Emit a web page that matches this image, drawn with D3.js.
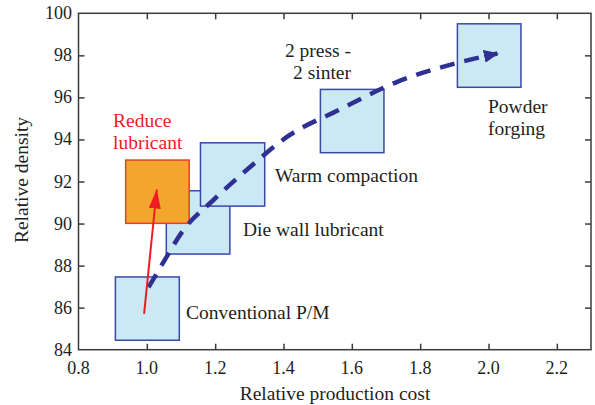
<!DOCTYPE html>
<html><head><meta charset="utf-8">
<script src="https://cdn.jsdelivr.net/npm/d3@7"></script>
<style>
html,body{margin:0;padding:0;background:#fff;}
svg{display:block;}
</style></head>
<body><svg id="c" width="595" height="405"></svg>
<script>
// ---- data ----
const xTicks = [1.0, 1.2, 1.4, 1.6, 1.8, 2.0, 2.2];
const xTickLabels = ["0.8","1.0","1.2","1.4","1.6","1.8","2.0","2.2"];
const xLabelValues = [0.8, 1.0, 1.2, 1.4, 1.6, 1.8, 2.0, 2.2];
const yTicks = [86, 88, 90, 92, 94, 96, 98];
const yTickLabels = ["84","86","88","90","92","94","96","98","100"];
const yLabelValues = [84, 86, 88, 90, 92, 94, 96, 98, 100];
// process boxes: name, x0, x1, y0, y1
const processNames = ["Conventional P/M", "Die wall lubricant", "Warm compaction", "2 press - 2 sinter", "Powder forging"];
const processX0 = [0.908, 1.057, 1.157, 1.508, 1.909];
const processX1 = [1.095, 1.243, 1.345, 1.694, 2.095];
const processY0 = [84.45, 88.55, 90.83, 93.37, 96.48];
const processY1 = [87.46, 91.56, 93.84, 96.38, 99.50];
// reduce lubricant box
const reduceX = [0.938, 1.124];
const reduceY = [90.01, 93.02];
// dashed trend curve
const trendX = [1.005, 1.05, 1.107, 1.195, 1.303, 1.411, 1.562, 1.733, 1.904, 2.026];
const trendY = [86.97, 88.2, 89.69, 91.12, 92.70, 94.13, 95.40, 96.74, 97.62, 98.09];
// red arrow
const redArrowX = [0.992, 1.029];
const redArrowY = [85.70, 91.62];

const FONT = "Tinos, 'Liberation Serif', 'DejaVu Serif', 'Noto Serif', 'Times New Roman', Times, FreeSerif, serif";
const TXT = "#231f20";

const svg = d3.select("#c");
const x = d3.scaleLinear().domain([0.8, 2.3]).range([78.5, 591]);
const y = d3.scaleLinear().domain([84, 100]).range([349.7, 13.3]);

const axisColor = "#3b3b3b";
const defs = svg.append("defs");
defs.append("marker").attr("id","blueHead").attr("viewBox","0 0 10 10")
  .attr("refX",9).attr("refY",5).attr("markerUnits","userSpaceOnUse")
  .attr("markerWidth",15).attr("markerHeight",13).attr("orient","auto")
  .attr("preserveAspectRatio","none")
  .append("path").attr("d","M0,0 L10,5 L0,10 Z").attr("fill","#2e3192");
defs.append("marker").attr("id","redHead").attr("viewBox","0 0 10 10")
  .attr("refX",10).attr("refY",5).attr("markerUnits","userSpaceOnUse")
  .attr("markerWidth",19).attr("markerHeight",12).attr("orient","auto")
  .attr("preserveAspectRatio","none")
  .append("path").attr("d","M0,0 L10,5 L0,10 Z").attr("fill","#ed1c24");

// boxes
svg.append("g").selectAll("rect").data(processNames).join("rect")
  .attr("x",(d,i)=>x(processX0[i]))
  .attr("y",(d,i)=>y(processY1[i]))
  .attr("width",(d,i)=>x(processX1[i])-x(processX0[i]))
  .attr("height",(d,i)=>y(processY0[i])-y(processY1[i]))
  .attr("fill","#cbe9f5").attr("stroke","#3a48a6").attr("stroke-width",1.5);

svg.append("rect")
  .attr("x",x(reduceX[0])).attr("y",y(reduceY[1]))
  .attr("width",x(reduceX[1])-x(reduceX[0])).attr("height",y(reduceY[0])-y(reduceY[1]))
  .attr("fill","#f4a52e").attr("stroke","#ee3a2c").attr("stroke-width",1.5);

// trend dashed curve
const line = d3.line().x(d=>x(d[0])).y(d=>y(d[1])).curve(d3.curveMonotoneX);
svg.append("path").datum(trendX.map((v,i)=>[v,trendY[i]]))
  .attr("d",line).attr("fill","none").attr("stroke","#2e3192")
  .attr("stroke-width",4.5).attr("stroke-dasharray","15,10")
  .attr("marker-end","url(#blueHead)");

// red arrow
svg.append("line")
  .attr("x1",x(redArrowX[0])).attr("y1",y(redArrowY[0]))
  .attr("x2",x(redArrowX[1])).attr("y2",y(redArrowY[1]))
  .attr("stroke","#ed1c24").attr("stroke-width",2)
  .attr("marker-end","url(#redHead)");

// frame
svg.append("rect").attr("x",78.5).attr("y",13.3).attr("width",591-78.5).attr("height",349.7-13.3)
  .attr("fill","none").attr("stroke",axisColor).attr("stroke-width",1.5);

// axes with inward ticks
const tl = 6;
const tickStyle = g=>{g.select(".domain").remove(); g.selectAll("line").attr("stroke",axisColor).attr("stroke-width",1.5);};
svg.append("g").attr("transform",`translate(0,${349.7})`)
  .call(d3.axisBottom(x).tickValues(xTicks).tickSize(-tl).tickFormat("")).call(tickStyle);
svg.append("g").attr("transform",`translate(0,${13.3})`)
  .call(d3.axisTop(x).tickValues(xTicks).tickSize(-tl).tickFormat("")).call(tickStyle);
svg.append("g").attr("transform",`translate(${78.5},0)`)
  .call(d3.axisLeft(y).tickValues(yTicks).tickSize(-tl).tickFormat("")).call(tickStyle);
svg.append("g").attr("transform",`translate(${591},0)`)
  .call(d3.axisRight(y).tickValues(yTicks).tickSize(-tl).tickFormat("")).call(tickStyle);

// tick labels
svg.append("g").selectAll("text").data(xLabelValues).join("text")
  .attr("x",d=>x(d)).attr("y",374).attr("text-anchor","middle")
  .style("font-family",FONT).attr("fill",TXT)
  .attr("font-size",18).text((d,i)=>xTickLabels[i]);
svg.append("g").selectAll("text").data(yLabelValues).join("text")
  .attr("x",72).attr("y",d=>y(d)+6).attr("text-anchor","end")
  .style("font-family",FONT).attr("fill",TXT)
  .attr("font-size",18).text((d,i)=>yTickLabels[i]);

// axis titles
svg.append("text").attr("x",335).attr("y",400).attr("text-anchor","middle")
  .style("font-family",FONT).attr("fill",TXT)
  .attr("font-size",19.5).text("Relative production cost");
svg.append("text").attr("transform","translate(28,180) rotate(-90)")
  .style("font-family",FONT).attr("fill",TXT)
  .attr("text-anchor","middle").attr("font-size",19.5).text("Relative density");

// annotations
const ann = (lines, xx, yy, anchor, color) => {
  const t = svg.append("text").attr("font-size",19.5).attr("text-anchor",anchor)
    .style("font-family",FONT).attr("fill",color||TXT);
  lines.forEach((s,i)=>t.append("tspan").attr("x",xx).attr("y",yy+i*22).text(s));
};
ann(["Reduce","lubricant"], 113, 127, "start", "#ed1c24");
ann(["2 press -","2 sinter"], 351, 57, "end");
ann(["Powder","forging"], 488, 113, "start");
ann(["Warm compaction"], 275, 182, "start");
ann(["Die wall lubricant"], 243, 236, "start");
ann(["Conventional P/M"], 186, 319, "start");
</script></body></html>
